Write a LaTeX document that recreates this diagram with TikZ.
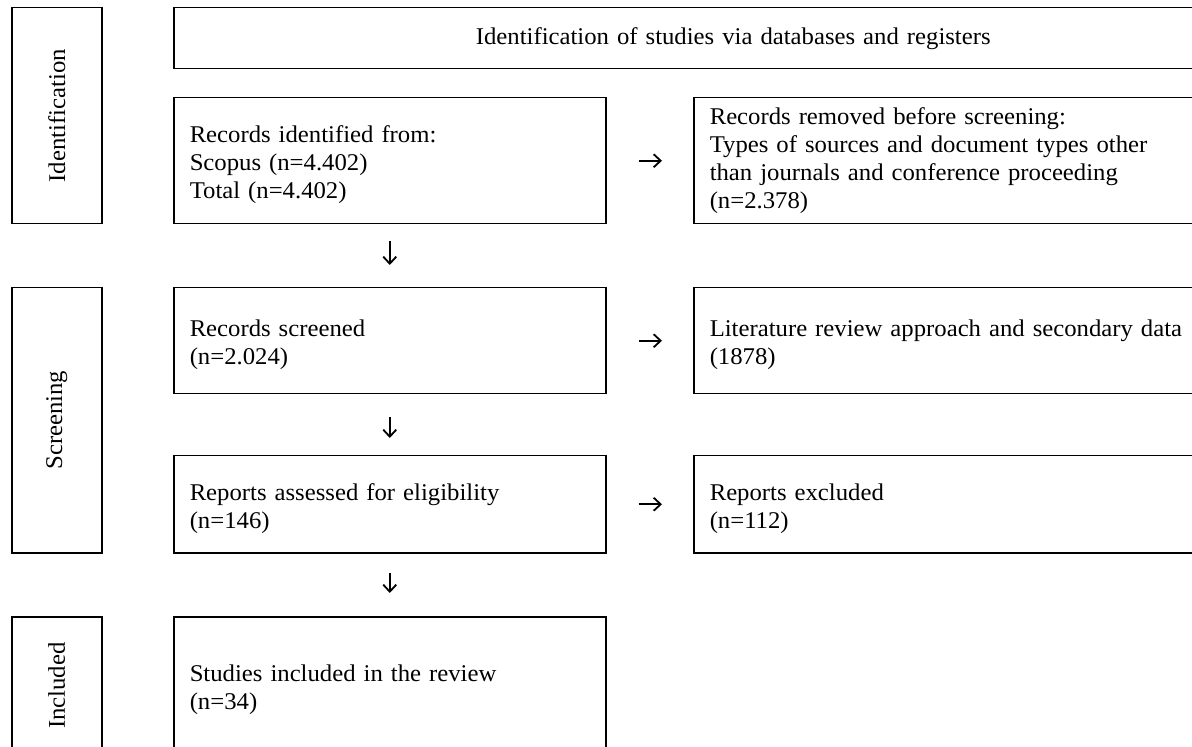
\documentclass[tikz,border=0pt]{standalone}
\usepackage{fontspec}
\setmainfont{Liberation Serif}[FakeStretch=1.03]
\usepackage{tikz}
\usetikzlibrary{arrows.meta}

\begin{document}
\begin{tikzpicture}[x=0.5pt,y=-0.5pt,font=\fontsize{12}{14}\selectfont,
  box/.style={draw,line width=0.75pt,anchor=north west,inner xsep=8pt,inner ysep=0pt,align=left,
    execute at begin node={\rule{0pt}{#1}}},
  box/.default=12.5pt,
  phase/.style={draw,line width=0.75pt,anchor=north west,minimum width=45pt,inner sep=0pt},
  flow/.style={-{Straight Barb[length=3.5pt,width=6.5pt]},line width=0.9pt},
  side/.style={flow,shorten <=16pt,shorten >=15.5pt}]
\useasboundingbox (0,0) rectangle (1192,747);
\clip (0,0) rectangle (1192,747);
% phases
\node[phase,minimum height=108pt] (pid) at (11,7) {\rotatebox{90}{Identification}};
\node[phase,minimum height=132.5pt] (pscr) at (11,287) {\rotatebox{90}{Screening}};
\node[phase,minimum height=69pt] (pinc) at (11,616) {\rotatebox{90}{Included}};
% main column
\node[box=0pt,align=center,text width=543.5pt,minimum height=30.5pt] (head) at (173,7) {Identification of studies via databases and registers};
\node[box,text width=200pt,minimum height=63pt] (ident) at (173,97) {Records identified from:\\ Scopus (n=4.402)\\ Total (n=4.402)};
\node[box,text width=200pt,minimum height=53pt] (screened) at (173,287) {Records screened\\ (n=2.024)};
\node[box,text width=200pt,minimum height=48.5pt] (assessed) at (173,455) {Reports assessed for eligibility\\ (n=146)};
\node[box,text width=200pt,minimum height=69pt] (included) at (173,616) {Studies included in the review\\ (n=34)};
% exclusions
\node[box=0pt,text width=284pt,minimum height=63pt] (removed) at (693,97) {Records removed before screening:\\ Types of sources and document types other\\ than journals and conference proceeding\\ (n=2.378)};
\node[box,text width=284pt,minimum height=53pt] (litrev) at (693,287) {Literature review approach and secondary data\\ (1878)};
\node[box,text width=284pt,minimum height=48.5pt] (excluded) at (693,455) {Reports excluded\\ (n=112)};
% arrows
\draw[side] (ident) -- (removed);
\draw[side] (screened) -- (litrev);
\draw[side] (assessed) -- (excluded);
\draw[flow,shorten <=8.5pt,shorten >=11pt] (ident) -- (screened);
\draw[flow,shorten <=11.5pt,shorten >=8.5pt] (screened) -- (assessed);
\draw[flow,shorten <=9.5pt,shorten >=11.5pt] (assessed) -- (included);
\end{tikzpicture}
\end{document}
